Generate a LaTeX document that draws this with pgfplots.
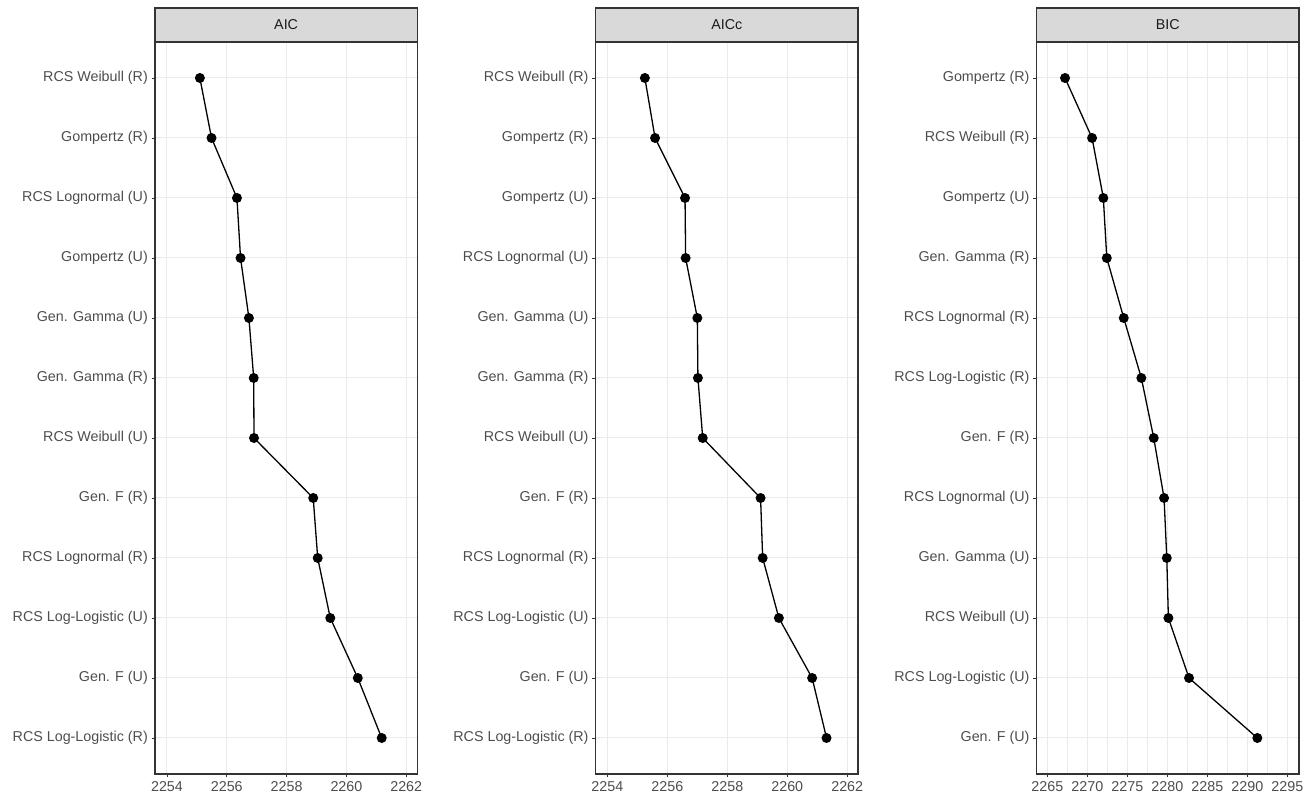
\documentclass[border=0pt]{standalone}
\usepackage{pgfplots}
\pgfplotsset{compat=1.18}
\usepackage{fontspec}
\setmainfont{Liberation Sans}
\definecolor{gthirty}{HTML}{4D4D4D}
\definecolor{gten}{HTML}{1A1A1A}
\definecolor{gtwenty}{HTML}{333333}
\definecolor{stripfill}{HTML}{D9D9D9}
\definecolor{gridc}{HTML}{EBEBEB}
\newcommand{\lbl}{\fontsize{14.3pt}{17pt}\selectfont}
\pgfplotsset{
  facet/.style={
    scale only axis, width=262.3pt, height=732pt,
    ymin=0.4, ymax=12.6, ytick={1,...,12},
    axis line style={gtwenty, line width=1.1pt},
    tick pos=left,
    tick align=outside, major tick length=3.5pt,
    tick style={gtwenty, line width=0.9pt},
    minor tick length=0pt,
    xmajorgrids, ymajorgrids, xminorgrids,
    minor x tick num=1,
    major grid style={gridc, line width=1pt},
    minor grid style={gridc, line width=0.6pt},
    /pgf/number format/assume math mode=true,
    /pgf/number format/1000 sep={},
    ticklabel style={font=\lbl, text=gthirty},
    yticklabel style={inner sep=0pt, xshift=-3.5pt},
    xticklabel style={inner sep=0pt, yshift=-4pt},
    every axis title shift=0pt,
    title style={at={(rel axis cs:0.5,1)}, anchor=south, fill=stripfill, draw=gtwenty, line width=1.1pt,
      minimum width=262.3pt, minimum height=34pt, inner sep=0pt, outer sep=0pt, font=\lbl, text=gten, yshift=0pt},
  },
  dotline/.style={black, line width=1.3pt, mark=*, mark size=4.3pt, mark options={fill=black, draw=black}},
}
\pgfplotstableread{
x y
2255.10 12
2255.49 11
2256.34 10
2256.46 9
2256.74 8
2256.90 7
2256.91 6
2258.89 5
2259.04 4
2259.46 3
2260.38 2
2261.18 1
}\aicdata
\pgfplotstableread{
x y
2255.25 12
2255.59 11
2256.59 10
2256.61 9
2257.00 8
2257.02 7
2257.18 6
2259.11 5
2259.18 4
2259.72 3
2260.83 2
2261.31 1
}\aiccdata
\pgfplotstableread{
x y
2267.21 12
2270.59 11
2272.00 10
2272.43 9
2274.55 8
2276.75 7
2278.30 6
2279.59 5
2279.93 4
2280.13 3
2282.71 2
2291.25 1
}\bicdata
\begin{document}
\begin{tikzpicture}[x=1pt,y=1pt]
\useasboundingbox (0,0) rectangle (1305,799);
\begin{axis}[facet, at={(155pt,25pt)}, anchor=south west,
  title={AIC},
  xmin=2253.6, xmax=2262.37, xtick={2254,2256,...,2262},
  yticklabels={RCS Log-Logistic (R),Gen. F (U),RCS Log-Logistic (U),RCS Lognormal (R),Gen. F (R),RCS Weibull (U),Gen. Gamma (R),Gen. Gamma (U),Gompertz (U),RCS Lognormal (U),Gompertz (R),RCS Weibull (R)}]
\addplot[dotline] table[x=x,y=y] {\aicdata};
\end{axis}
\begin{axis}[facet, at={(595.7pt,25pt)}, anchor=south west,
  title={AICc},
  xmin=2253.61, xmax=2262.36, xtick={2254,2256,...,2262},
  yticklabels={RCS Log-Logistic (R),Gen. F (U),RCS Log-Logistic (U),RCS Lognormal (R),Gen. F (R),RCS Weibull (U),Gen. Gamma (R),Gen. Gamma (U),RCS Lognormal (U),Gompertz (U),Gompertz (R),RCS Weibull (R)}]
\addplot[dotline] table[x=x,y=y] {\aiccdata};
\end{axis}
\begin{axis}[facet, at={(1036.7pt,25pt)}, anchor=south west,
  title={BIC},
  xmin=2263.67, xmax=2296.46, xtick={2265,2270,...,2295},
  yticklabels={Gen. F (U),RCS Log-Logistic (U),RCS Weibull (U),Gen. Gamma (U),RCS Lognormal (U),Gen. F (R),RCS Log-Logistic (R),RCS Lognormal (R),Gen. Gamma (R),Gompertz (U),RCS Weibull (R),Gompertz (R)}]
\addplot[dotline] table[x=x,y=y] {\bicdata};
\end{axis}
\end{tikzpicture}
\end{document}
